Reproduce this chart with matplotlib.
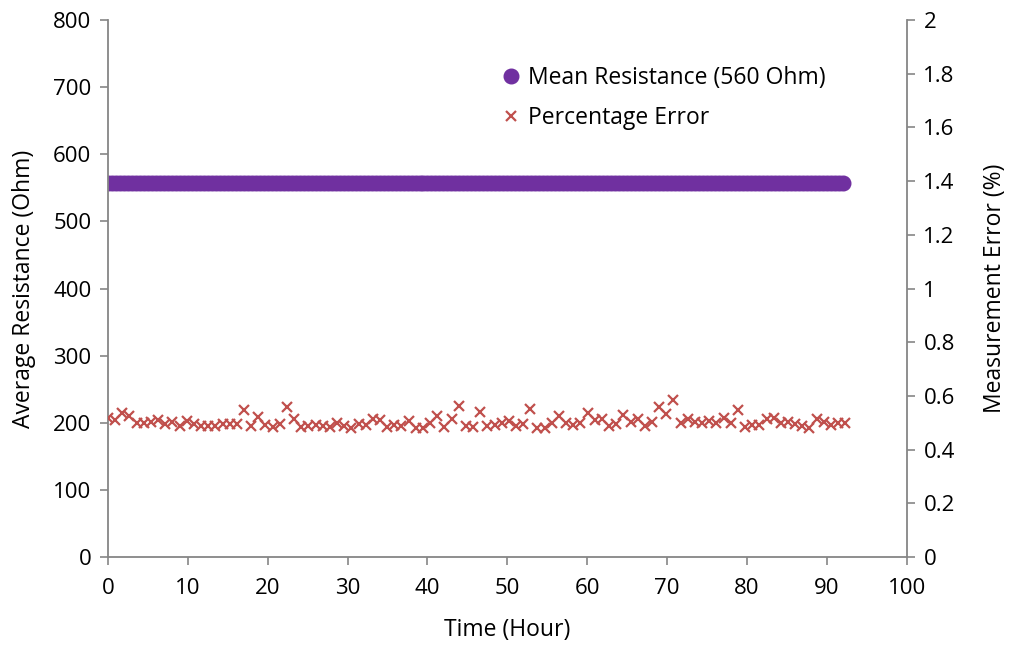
import numpy as np
import matplotlib.pyplot as plt
from matplotlib.ticker import FormatStrFormatter, MultipleLocator

# Data
meanResistance = 557.0          # Ohm, constant over the test
meanEndHour = 92.3
pctError = [0.518, 0.510, 0.536, 0.525, 0.499, 0.499, 0.503, 0.510, 0.495, 0.503,
            0.488, 0.507, 0.495, 0.488, 0.488, 0.488, 0.495, 0.495, 0.495, 0.547,
            0.488, 0.521, 0.492, 0.484, 0.495, 0.559, 0.514, 0.484, 0.488, 0.492,
            0.488, 0.484, 0.499, 0.488, 0.480, 0.495, 0.492, 0.514, 0.510, 0.484,
            0.492, 0.488, 0.507, 0.480, 0.480, 0.499, 0.525, 0.484, 0.514, 0.562,
            0.488, 0.484, 0.540, 0.488, 0.492, 0.499, 0.507, 0.488, 0.495, 0.551,
            0.480, 0.480, 0.499, 0.525, 0.499, 0.492, 0.499, 0.536, 0.510, 0.514,
            0.488, 0.495, 0.529, 0.503, 0.514, 0.488, 0.503, 0.559, 0.533, 0.585,
            0.499, 0.514, 0.503, 0.499, 0.507, 0.499, 0.518, 0.499, 0.547, 0.484,
            0.492, 0.492, 0.514, 0.518, 0.499, 0.503, 0.495, 0.488, 0.480, 0.514,
            0.503, 0.492, 0.499, 0.499]

# time grids
meanHours = np.arange(0, meanEndHour + 0.01, 0.5)
meanValues = np.full(len(meanHours), meanResistance)
errorHours = np.linspace(0, meanEndHour, len(pctError))

plt.rcParams['font.family'] = ['Open Sans', 'DejaVu Sans']

fig = plt.figure(figsize=(10.12, 6.45), dpi=100)
ax = fig.add_axes([0.1067, 0.1364, 0.7893, 0.8326])
ax2 = ax.twinx()

line1, = ax.plot(meanHours, meanValues, linestyle='none', marker='o', markersize=10.5,
                 color='#7030A0', label='Mean Resistance (560 Ohm)')
line2, = ax2.plot(errorHours, pctError, linestyle='none', marker='x', markersize=6.5,
                  markeredgewidth=1.6, color='#C0504D', label='Percentage Error')

ax.set_xlim(0, 100)
ax.set_ylim(0, 800)
ax2.set_ylim(0, 2)
ax.xaxis.set_major_locator(MultipleLocator(10))
ax.yaxis.set_major_locator(MultipleLocator(100))
ax2.yaxis.set_major_locator(MultipleLocator(0.2))
ax2.yaxis.set_major_formatter(FormatStrFormatter('%g'))

for a in (ax, ax2):
    a.spines['top'].set_visible(False)
    for s in ('left', 'right', 'bottom'):
        a.spines[s].set_color('#868686')
        a.spines[s].set_linewidth(1.3)
    a.tick_params(direction='out', length=6, width=1.2, color='#868686', labelsize=16, pad=6)
ax.tick_params(axis='x', pad=9)
ax.spines['right'].set_visible(False)
ax2.spines['left'].set_visible(False)
ax2.spines['bottom'].set_visible(False)

ax.set_xlabel('Time (Hour)', fontsize=16.5, labelpad=14)
ax.set_ylabel('Average Resistance (Ohm)', fontsize=16.5, labelpad=12)
ax2.set_ylabel('Measurement Error (%)', fontsize=16.5, labelpad=20)

ax2.legend(handles=[line1, line2], loc='upper left', bbox_to_anchor=(0.48, 0.935),
           frameon=False, fontsize=16.5, handlelength=0.7, handletextpad=0.4,
           labelspacing=0.7, numpoints=1, borderpad=0)

fig.savefig('out.png', dpi=100)
